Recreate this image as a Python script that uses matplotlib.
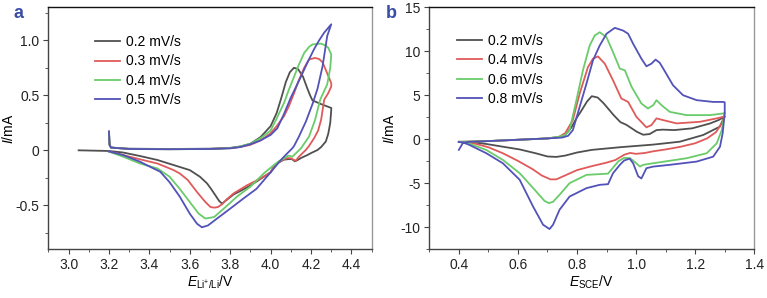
import matplotlib
matplotlib.use('Agg')
import matplotlib.pyplot as plt
from matplotlib.ticker import MultipleLocator

plt.rcParams['font.family'] = ['Liberation Sans', 'DejaVu Sans']
plt.rcParams['mathtext.fontset'] = 'custom'
plt.rcParams['mathtext.rm'] = 'Liberation Sans'
plt.rcParams['mathtext.it'] = 'Liberation Sans:italic'

# ---- panel a: E vs Li+/Li (V), I (mA) ----
a_labels = ['0.2 mV/s', '0.3 mV/s', '0.4 mV/s', '0.5 mV/s']

a_black_E = [3.2, 3.203, 3.21, 3.3, 3.5, 3.7, 3.8, 3.85, 3.9, 3.95, 4.0, 4.03, 4.055, 4.075, 4.095,
             4.115, 4.135, 4.16, 4.18, 4.195, 4.207, 4.25, 4.3,
             4.3, 4.295, 4.285, 4.273, 4.25, 4.232, 4.2, 4.182, 4.15, 4.132, 4.12, 4.105, 4.09, 4.066,
             4.04, 4.016, 4.0, 3.95, 3.9, 3.85, 3.818, 3.79, 3.77, 3.76, 3.745, 3.727, 3.705, 3.685,
             3.65, 3.6, 3.52, 3.44, 3.354, 3.27, 3.2, 3.05]
a_black_I = [0.17, 0.05, 0.025, 0.015, 0.012, 0.015, 0.022, 0.035, 0.06, 0.12, 0.22, 0.34, 0.49, 0.62, 0.71,
             0.75, 0.74, 0.67, 0.57, 0.5, 0.454, 0.42, 0.385,
             0.37, 0.25, 0.15, 0.08, 0.03, 0.003, -0.025, -0.043, -0.07, -0.09, -0.1, -0.08, -0.08, -0.085,
             -0.11, -0.15, -0.2, -0.26, -0.32, -0.37, -0.40, -0.44, -0.47, -0.485, -0.46, -0.41, -0.35, -0.30,
             -0.24, -0.18, -0.134, -0.088, -0.052, -0.02, -0.006, 0.0]

a_red_E = [3.2, 3.203, 3.21, 3.3, 3.5, 3.7, 3.8, 3.85, 3.9, 3.95, 4.0, 4.03, 4.066, 4.09, 4.116, 4.14,
           4.166, 4.19, 4.22, 4.24, 4.257, 4.28, 4.3,
           4.3, 4.285, 4.265, 4.25, 4.235, 4.215, 4.19, 4.174, 4.14, 4.124, 4.10, 4.085, 4.066, 4.04,
           4.016, 4.0, 3.95, 3.884, 3.818, 3.78, 3.76, 3.74, 3.727, 3.715, 3.702, 3.677, 3.636, 3.59,
           3.55, 3.52, 3.44, 3.354, 3.27, 3.2]
a_red_I = [0.17, 0.05, 0.025, 0.012, 0.01, 0.013, 0.02, 0.03, 0.05, 0.09, 0.155, 0.22, 0.31, 0.4, 0.52, 0.64,
           0.75, 0.826, 0.84, 0.83, 0.80, 0.70, 0.61,
           0.58, 0.52, 0.46, 0.28, 0.18, 0.11, 0.04, 0.003, -0.058, -0.095, -0.073, -0.07, -0.08, -0.11,
           -0.14, -0.2, -0.256, -0.317, -0.39, -0.45, -0.49, -0.515, -0.52, -0.52, -0.515, -0.47, -0.38, -0.27,
           -0.21, -0.18, -0.12, -0.082, -0.043, -0.012]

a_green_E = [3.2, 3.203, 3.21, 3.3, 3.5, 3.7, 3.8, 3.85, 3.9, 3.95, 4.0, 4.03, 4.066, 4.09, 4.116, 4.14,
             4.166, 4.19, 4.207, 4.248, 4.27, 4.285, 4.3,
             4.295, 4.28, 4.245, 4.22, 4.19, 4.15, 4.116, 4.105, 4.096, 4.085, 4.07, 4.04, 4.016, 3.966,
             3.9, 3.834, 3.768, 3.72, 3.677, 3.644, 3.6, 3.55, 3.5, 3.44, 3.354, 3.27, 3.2]
a_green_I = [0.17, 0.05, 0.025, 0.012, 0.01, 0.012, 0.02, 0.035, 0.06, 0.11, 0.18, 0.29, 0.43, 0.55, 0.67, 0.78,
             0.885, 0.94, 0.963, 0.97, 0.955, 0.933, 0.87,
             0.75, 0.6, 0.46, 0.277, 0.125, 0.018, -0.043, -0.06, -0.05, -0.05, -0.07, -0.1, -0.134, -0.21,
             -0.33, -0.42, -0.53, -0.607, -0.62, -0.576, -0.47, -0.35, -0.24, -0.165, -0.12, -0.058, -0.012]

a_blue_E = [3.2, 3.203, 3.21, 3.3, 3.5, 3.7, 3.8, 3.85, 3.9, 3.95, 4.0, 4.033, 4.066, 4.1, 4.15, 4.18,
            4.215, 4.24, 4.265, 4.3,
            4.28, 4.257, 4.232, 4.207, 4.174, 4.14, 4.116, 4.107, 4.074, 4.05, 4.0, 3.93, 3.864, 3.8,
            3.735, 3.69, 3.66, 3.636, 3.6, 3.55, 3.5, 3.454, 3.404, 3.354, 3.27, 3.2]
a_blue_I = [0.17, 0.05, 0.025, 0.012, 0.01, 0.012, 0.018, 0.03, 0.055, 0.09, 0.14, 0.2, 0.33, 0.48, 0.67, 0.79,
            0.92, 1.0, 1.07, 1.146,
            1.04, 0.765, 0.56, 0.42, 0.26, 0.125, 0.04, 0.018, -0.043, -0.089, -0.2, -0.35, -0.44, -0.53,
            -0.62, -0.683, -0.70, -0.668, -0.576, -0.42, -0.29, -0.195, -0.15, -0.104, -0.043, -0.01]

a_xticks = [3.0, 3.2, 3.4, 3.6, 3.8, 4.0, 4.2, 4.4]
a_xticklabels = ['3.0', '3.2', '3.4', '3.6', '3.8', '4.0', '4.2', '4.4']
a_yticks = [-0.5, 0, 0.5, 1.0]
a_yticklabels = ['-0.5', '0', '0.5', '1.0']

# ---- panel b: E vs SCE (V), I (mA) ----
b_labels = ['0.2 mV/s', '0.4 mV/s', '0.6 mV/s', '0.8 mV/s']

b_black_E = [0.4, 0.5, 0.6, 0.7, 0.74, 0.76, 0.78, 0.8, 0.812, 0.834, 0.85, 0.87, 0.89, 0.924, 0.947,
             0.967, 0.985, 1.003, 1.024, 1.046, 1.069, 1.09, 1.13, 1.19, 1.25, 1.28, 1.3,
             1.283, 1.227, 1.148, 1.058, 0.945, 0.85, 0.8, 0.76, 0.73, 0.7, 0.662, 0.606, 0.549, 0.493,
             0.436, 0.4]
b_black_I = [-0.3, -0.2, -0.05, 0.1, 0.25, 0.5, 1.3, 2.5, 3.1, 4.3, 4.9, 4.75, 4.1, 2.75, 1.95,
             1.65, 1.25, 0.85, 0.52, 0.6, 1.05, 1.1, 1.05, 1.25, 1.8, 2.2, 2.6,
             1.43, 0.49, -0.27, -0.6, -0.9, -1.2, -1.5, -1.85, -2.0, -1.95, -1.6, -1.15, -0.84, -0.53,
             -0.3, -0.27]

b_red_E = [0.4, 0.5, 0.6, 0.7, 0.74, 0.76, 0.786, 0.809, 0.837, 0.854, 0.871, 0.894, 0.922, 0.95, 0.973,
           1.001, 1.035, 1.052, 1.069, 1.092, 1.137, 1.216, 1.273, 1.3,
           1.29, 1.27, 1.24, 1.2, 1.15, 1.1, 1.06, 1.03, 1.0, 0.98, 0.96, 0.93, 0.9, 0.85, 0.8, 0.76,
           0.73, 0.71, 0.68, 0.65, 0.6, 0.55, 0.5, 0.45, 0.42, 0.4]
b_red_I = [-0.3, -0.2, -0.05, 0.1, 0.3, 0.7, 2.2, 5.2, 8.2, 9.16, 9.42, 8.6, 6.7, 4.64, 4.25,
           2.56, 1.36, 1.62, 2.38, 2.18, 1.81, 1.99, 2.38, 2.6,
           1.8, 0.8, 0.1, -0.45, -0.85, -1.15, -1.35, -1.55, -1.65, -1.55, -1.75, -2.35, -2.65, -3.05, -3.5, -4.1,
           -4.55, -4.55, -4.1, -3.4, -2.45, -1.6, -0.9, -0.45, -0.3, -0.3]

b_green_E = [0.4, 0.5, 0.6, 0.7, 0.74, 0.76, 0.775, 0.798, 0.82, 0.843, 0.86, 0.877, 0.9, 0.922, 0.945,
             0.962, 0.985, 1.018, 1.04, 1.058, 1.069, 1.086, 1.114, 1.171, 1.25, 1.295, 1.3,
             1.29, 1.273, 1.239, 1.171, 1.058, 1.024, 1.013, 1.0, 0.98, 0.96, 0.94, 0.92, 0.905, 0.832,
             0.775, 0.741, 0.719, 0.705, 0.69, 0.662, 0.606, 0.549, 0.493, 0.436, 0.4]
b_green_I = [-0.3, -0.2, -0.05, 0.1, 0.3, 0.5, 1.05, 4.45, 7.84, 10.67, 11.8, 12.17, 11.6, 9.9, 8.03,
             7.84, 5.95, 4.07, 3.5, 3.88, 4.45, 3.88, 3.12, 2.75, 2.75, 2.94, 3.0,
             1.05, -0.45, -1.58, -2.15, -2.72, -2.9, -3.1, -2.7, -2.15, -2.1, -2.5, -3.3, -3.9, -4.04,
             -4.98, -6.3, -7.1, -7.25, -7.0, -5.93, -3.85, -2.34, -1.21, -0.5, -0.3]

b_blue_E = [0.4, 0.414, 0.43, 0.5, 0.6, 0.7, 0.75, 0.77, 0.786, 0.809, 0.832, 0.854, 0.877, 0.9, 0.928,
            0.956, 0.973, 0.99, 1.018, 1.035, 1.052, 1.066, 1.08, 1.092, 1.125, 1.159, 1.205, 1.261, 1.295, 1.3,
            1.3, 1.293, 1.284, 1.261, 1.205, 1.114, 1.058, 1.035, 1.018, 1.007, 0.99, 0.978, 0.96, 0.945,
            0.922, 0.905, 0.877, 0.832, 0.775, 0.741, 0.719, 0.707, 0.685, 0.651, 0.606, 0.549, 0.493,
            0.436, 0.414, 0.4]
b_blue_I = [-1.2, -0.4, -0.3, -0.2, -0.05, 0.1, 0.2, 0.4, 1.05, 3.69, 6.33, 8.97, 10.67, 12.0, 12.67,
            12.36, 12.0, 10.86, 9.16, 8.3, 8.6, 9.06, 8.7, 8.03, 6.14, 5.01, 4.45, 4.25, 4.25, 4.2,
            3.0, 0.68, -0.84, -1.97, -2.53, -2.9, -3.1, -3.28, -4.45, -4.2, -2.72, -2.2, -2.4, -2.9,
            -3.85, -5.1, -5.17, -5.55, -6.5, -8.0, -9.7, -10.2, -9.7, -7.62, -4.6, -2.72, -1.58,
            -0.64, -0.35, -0.3]

b_xticks = [0.4, 0.6, 0.8, 1.0, 1.2, 1.4]
b_xticklabels = ['0.4', '0.6', '0.8', '1.0', '1.2', '1.4']
b_yticks = [-10, -5, 0, 5, 10, 15]
b_yticklabels = ['-10', '-5', '0', '5', '10', '15']

colors = ['#505050', '#e05a5a', '#6acb6a', '#5252b8']


def style_axes(ax):
    for side in ['left', 'bottom']:
        ax.spines[side].set_color('#444444')
    ax.spines['top'].set_color('#111111')
    ax.spines['right'].set_color('#999999')
    for sp in ax.spines.values():
        sp.set_linewidth(1.0)
    ax.tick_params(which='both', direction='out', colors='#444444', labelcolor='#222222',
                   labelsize=10, top=False, right=False)
    ax.tick_params(which='major', length=3.5, pad=3)
    ax.tick_params(which='minor', length=2)


fig = plt.figure(figsize=(7.67, 2.98), dpi=100)
ax1 = fig.add_axes([0.063, 0.1634, 0.4216, 0.812])
ax2 = fig.add_axes([0.5597, 0.1634, 0.4237, 0.812])

curves_a = [(a_black_E, a_black_I), (a_red_E, a_red_I), (a_green_E, a_green_I), (a_blue_E, a_blue_I)]
for (e, i), c, lab in zip(curves_a, colors, a_labels):
    ax1.plot(e, i, color=c, lw=1.3, label=lab)

curves_b = [(b_black_E, b_black_I), (b_red_E, b_red_I), (b_green_E, b_green_I), (b_blue_E, b_blue_I)]
for (e, i), c, lab in zip(curves_b, colors, b_labels):
    ax2.plot(e, i, color=c, lw=1.3, label=lab)

ax1.set_xlim(2.9, 4.5)
ax1.set_ylim(-0.9, 1.3)
ax1.set_xticks(a_xticks)
ax1.set_xticklabels(a_xticklabels)
ax1.set_yticks(a_yticks)
ax1.set_yticklabels(a_yticklabels)
ax1.xaxis.set_minor_locator(MultipleLocator(0.1))
ax1.yaxis.set_minor_locator(MultipleLocator(0.25))
ax1.set_xlabel(r'$E_{\mathrm{Li^{+}/Li}}$/V', fontsize=10, labelpad=1)
ax1.set_ylabel(r'$I$/mA', fontsize=10)
ax1.yaxis.set_label_coords(-0.1, 0.5)
style_axes(ax1)

ax2.set_xlim(0.3, 1.4)
ax2.set_ylim(-12.5, 15)
ax2.set_xticks(b_xticks)
ax2.set_xticklabels(b_xticklabels)
ax2.set_yticks(b_yticks)
ax2.set_yticklabels(b_yticklabels)
ax2.xaxis.set_minor_locator(MultipleLocator(0.1))
ax2.yaxis.set_minor_locator(MultipleLocator(2.5))
ax2.set_xlabel(r'$E_{\mathrm{SCE}}$/V', fontsize=10, labelpad=1)
ax2.set_ylabel(r'$I$/mA', fontsize=10)
ax2.yaxis.set_label_coords(-0.098, 0.5)
style_axes(ax2)

ax1.legend(loc='upper left', bbox_to_anchor=(0.144, 0.885), frameon=False, fontsize=10,
           handlelength=1.8, handletextpad=0.45, labelspacing=0.38, borderpad=0, borderaxespad=0)
ax2.legend(loc='upper left', bbox_to_anchor=(0.084, 0.89), frameon=False, fontsize=10,
           handlelength=1.8, handletextpad=0.45, labelspacing=0.38, borderpad=0, borderaxespad=0)

fig.text(0.017, 0.955, 'a', fontsize=13, fontweight='bold', color='#3a4ea6', ha='left', va='center')
fig.text(0.503, 0.955, 'b', fontsize=13, fontweight='bold', color='#3a4ea6', ha='left', va='center')

fig.savefig('out.png', dpi=100)
